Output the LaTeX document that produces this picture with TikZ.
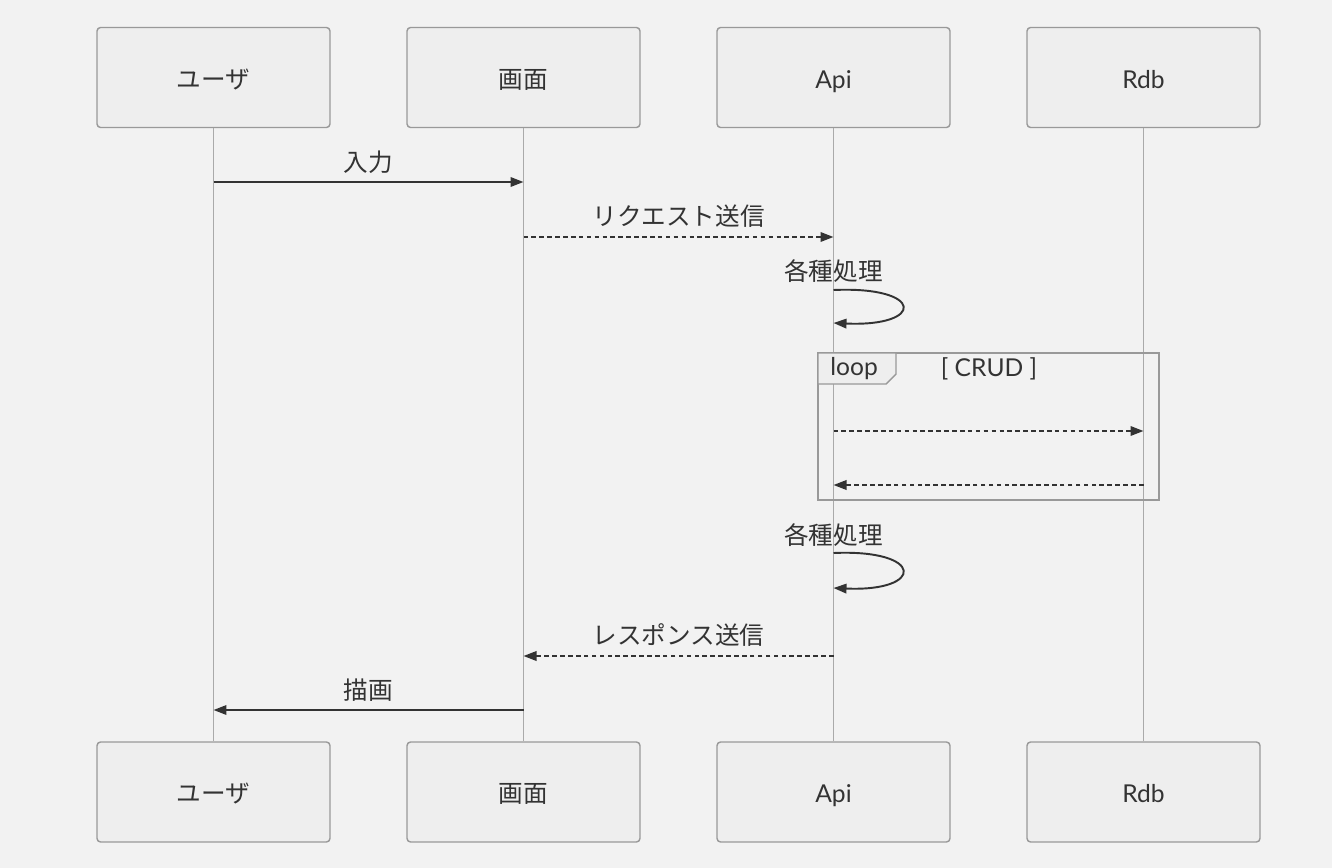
\documentclass[tikz,border=0pt]{standalone}
\usepackage{fontspec}
\setmainfont{Lato}
\newfontfamily\jp{Noto Sans CJK JP}
\usetikzlibrary{arrows.meta}

\definecolor{bgcol}{HTML}{F2F2F2}
\definecolor{boxcol}{HTML}{EEEEEE}
\definecolor{edgecol}{HTML}{999999}
\definecolor{linecol}{HTML}{AAAAAA}
\definecolor{inkcol}{HTML}{333333}

\tikzset{
  actor/.style = {draw=edgecol, fill=boxcol, rounded corners=2pt, line width=0.8pt,
                  minimum width=4.66cm, minimum height=2.0cm, inner sep=0pt,
                  text height=13pt, text depth=1pt,
                  font=\fontsize{14}{16}\selectfont, text=inkcol},
  lifeline/.style = {draw=linecol, line width=0.6pt},
  msg/.style = {draw=inkcol, line width=1.1pt, -{Triangle[length=0.26cm, width=0.19cm]}},
  reply/.style = {msg, dash pattern=on 2.6pt off 1.9pt},
  lbl/.style = {font=\fontsize{14}{16}\selectfont, text=inkcol, inner sep=0pt}
}

\begin{document}
\begin{tikzpicture}[x=0.02cm, y=-0.02cm]

\fill[bgcol] (0,0) rectangle (1332,868);
\useasboundingbox (0,0) rectangle (1332,868);

% actors
\node[actor] (userT) at (213.5,77.5) {\jp ユーザ};
\node[actor] (viewT) at (523.5,77.5) {\jp 画面};
\node[actor] (apiT)  at (833.5,77.5) {Api};
\node[actor] (rdbT)  at (1143.5,77.5) {Rdb};

\node[actor] (userB) at (213.5,792) {\jp ユーザ};
\node[actor] (viewB) at (523.5,792) {\jp 画面};
\node[actor] (apiB)  at (833.5,792) {Api};
\node[actor] (rdbB)  at (1143.5,792) {Rdb};

\draw[lifeline] (userT.south) -- (userB.north);
\draw[lifeline] (viewT.south) -- (viewB.north);
\draw[lifeline] (apiT.south) -- (apiB.north);
\draw[lifeline] (rdbT.south) -- (rdbB.north);

% loop frame
\draw[draw=edgecol, line width=1.5pt] (818,353) rectangle (1159,500);
\draw[draw=edgecol, fill=boxcol, line width=0.8pt]
  (818,353) -- (896,353) -- (896,374) -- (886,384) -- (818,384) -- cycle;
\node[lbl, anchor=west] (loopL) at (830,368.5) {loop};
\node[lbl] (loopC) at (989,368.5) {[ CRUD ]};

% messages
\coordinate (u1) at (213.5,182);   \coordinate (v1) at (523.5,182);
\coordinate (v2) at (523.5,237);   \coordinate (a2) at (833.5,237);
\coordinate (a3) at (833.5,290);   \coordinate (a3e) at (833.5,323);
\coordinate (a4) at (833.5,431);   \coordinate (r4) at (1143.5,431);
\coordinate (a5) at (833.5,485);   \coordinate (r5) at (1143.5,485);
\coordinate (a6) at (833.5,553);   \coordinate (a6e) at (833.5,588);
\coordinate (a7) at (833.5,656);   \coordinate (v7) at (523.5,656);
\coordinate (v8) at (523.5,710);   \coordinate (u8) at (213.5,710);

\draw[msg] (u1) -- (v1);
\node[lbl] (inp) at (368.5,162) {\jp 入力};

\draw[reply] (v2) -- (a2);
\node[lbl] (req) at (678.5,216) {\jp リクエスト送信};

\draw[msg] (a3) .. controls (925,286) and (925,327) .. (a3e);
\node[lbl] (proc1) at (833.5,271) {\jp 各種処理};

\draw[reply] (a4) -- (r4);
\draw[reply] (r5) -- (a5);

\draw[msg] (a6) .. controls (925,549) and (925,592) .. (a6e);
\node[lbl] (proc2) at (833.5,535) {\jp 各種処理};

\draw[reply] (a7) -- (v7);
\node[lbl] (res) at (678.5,635) {\jp レスポンス送信};

\draw[msg] (v8) -- (u8);
\node[lbl] (draw) at (368.5,690) {\jp 描画};

\end{tikzpicture}
\end{document}
